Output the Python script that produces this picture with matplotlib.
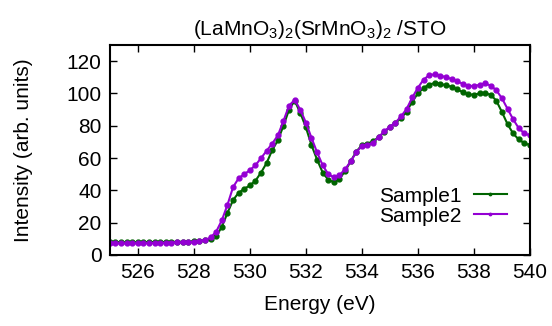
import numpy as np
import matplotlib
matplotlib.use("Agg")
import matplotlib.pyplot as plt

plt.rcParams['font.family'] = ['Liberation Sans', 'DejaVu Sans']
plt.rcParams['mathtext.fontset'] = 'custom'
plt.rcParams['mathtext.rm'] = 'Liberation Sans'
plt.rcParams['mathtext.it'] = 'Liberation Sans'

## Data (0.2 eV step)

energy = np.round(np.arange(525.0, 540.01, 0.2), 1)

sample1 = [7.8, 7.9, 7.8, 7.7, 7.8, 7.8, 7.9, 7.9, 8.0, 8.0,
           8.0, 8.1, 8.1, 8.2, 8.3, 8.4, 8.6, 9.0, 9.6, 11.5,
           17.5, 26.0, 34.0, 38.5, 41.0, 43.0, 46.0, 51.0, 57.0, 65.0,
           71.0, 80.0, 90.0, 95.5, 88.0, 79.0, 68.0, 59.0, 51.0, 46.5,
           45.0, 47.0, 52.0, 58.0, 64.0, 68.0, 69.0, 70.3, 73.0, 76.0,
           79.3, 81.7, 84.8, 88.8, 95.0, 100.0, 103.4, 105.5, 106.4, 106.0,
           105.0, 104.2, 102.5, 100.8, 99.4, 99.2, 100.0, 100.1, 99.2, 95.5,
           88.5, 81.0, 75.2, 71.5, 69.2, 68.0]

sample2 = [7.2, 7.2, 7.1, 7.1, 7.2, 7.2, 7.3, 7.3, 7.4, 7.4,
           7.5, 7.6, 7.7, 7.8, 7.9, 8.1, 8.5, 9.3, 10.8, 14.5,
           21.5, 31.0, 42.0, 47.5, 50.0, 52.5, 55.5, 60.0, 64.5, 69.0,
           74.0, 83.0, 92.5, 96.0, 90.0, 82.0, 72.5, 63.5, 55.5, 50.0,
           48.0, 49.5, 53.0, 58.0, 63.5, 67.5, 68.0, 69.5, 73.0, 76.5,
           79.5, 82.0, 85.8, 90.5, 97.5, 103.5, 108.5, 111.3, 111.8, 111.1,
           110.0, 109.0, 107.5, 106.0, 104.7, 104.6, 105.3, 106.3, 104.8, 102.0,
           97.0, 90.5, 84.0, 78.5, 75.3, 74.0]

xticks = [526, 528, 530, 532, 534, 536, 538, 540]
yticks = [0, 20, 40, 60, 80, 100, 120]

## Figure

fig = plt.figure(figsize=(5.52, 3.26), dpi=100)
ax = fig.add_axes([0.199, 0.218, 0.761, 0.644])

ax.plot(energy, sample1, color='#006400', lw=1.5, marker='o', ms=3.5, label='Sample1')
ax.plot(energy, sample2, color='#9400d3', lw=1.5, marker='o', ms=3.5, label='Sample2')

ax.set_xlim(525, 540)
ax.set_ylim(0, 130)
ax.set_xticks(xticks)
ax.set_yticks(yticks)
ax.tick_params(direction='in', length=5, width=1, top=True, right=True, labelsize=15, pad=6)
for s in ax.spines.values():
    s.set_linewidth(1.5)

ax.set_xlabel('Energy (eV)', fontsize=15, labelpad=9)
ax.set_ylabel('Intensity (arb. units)', fontsize=15, labelpad=24)
ax.set_title(r'(LaMnO$_3$)$_2$(SrMnO$_3$)$_2$ /STO', fontsize=15, pad=7)

leg = ax.legend(loc='lower right', bbox_to_anchor=(0.99, 0.05), frameon=False, markerfirst=False,
                fontsize=15, handlelength=1.6, handletextpad=0.6, labelspacing=0.05, markerscale=0.5)

fig.savefig('out.png', dpi=100)
